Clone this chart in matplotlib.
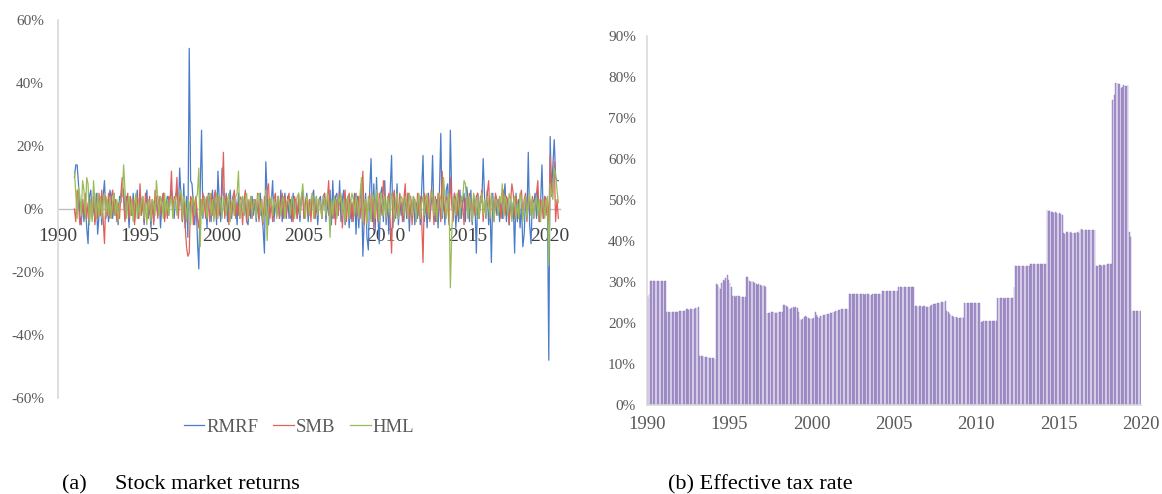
import numpy as np
import matplotlib
matplotlib.use('Agg')
import matplotlib.pyplot as plt
from matplotlib.ticker import PercentFormatter

plt.rcParams['font.family'] = ['Liberation Serif', 'DejaVu Serif']
plt.rcParams['axes.unicode_minus'] = False

# Monthly factor returns (%), Jan 1991 - Jul 2020, one row per year
rmrf = [
    10, 14, 14, 8, -2, -5, 3, -4, 2, -6, -11, 4,
    6, -3, 2, -4, 5, -8, -2, 3, -5, 4, 9, -3,
    2, -4, 6, 3, -3, 5, -2, 1, -5, 4, 2, 7,
    6, -3, 4, 2, -6, 3, -2, 5, -4, 2, 6, -3,
    3, -2, 4, -5, 2, 6, -3, 1, -6, 3, -4, 2,
    4, -2, 3, -6, 2, 5, -3, 1, 4, -2, 3, 6,
    2, -3, 4, 6, -2, 13, 3, -4, 8, -6, 4, -9,
    51, 9, 8, 2, -5, 3, -10, -19, 6, 25, -3, 4,
    2, -6, 5, 3, -4, 6, -3, 4, -5, 12, 2, -4,
    13, 3, -2, 5, -4, 2, 6, -3, 4, -2, 3, -5,
    5, -3, 2, 4, -2, 3, -4, -5, 2, -3, 4, -2,
    3, -4, 2, -3, 5, -2, -6, -14, 15, 4, -5, 3,
    2, 9, -4, 3, -2, 4, -3, 6, -4, 2, 5, -3,
    4, -3, 3, -4, 5, -2, 3, -3, 2, -4, 4, 6,
    -3, 2, 5, -4, 3, -2, 4, 6, -3, 2, -5, 3,
    4, -3, 2, 5, -4, 3, -2, 6, -5, 9, -3, 4,
    5, -2, 9, -4, 3, 6, -5, 2, 4, -6, 3, -4,
    2, 5, -8, 4, -6, 3, 8, -15, -3, 5, -9, -13,
    6, 16, -4, 8, -7, 10, -2, -11, 5, 7, -4, 9,
    -5, 3, -8, 6, 17, -6, 4, -3, 8, -5, 3, -2,
    2, -4, 6, -3, 5, -7, 3, -2, 4, -5, 2, -3,
    3, -5, 6, 17, -4, 3, -6, 5, -3, 2, 17, -2,
    -4, 3, -6, 5, 24, -3, 4, -5, 6, 8, -4, 25,
    4, -3, 5, -6, 3, -4, 6, -3, 2, 5, -4, 7,
    3, -4, 6, -5, 4, 2, -14, 5, -3, 4, 2, 16,
    4, -3, 6, -5, 2, -17, 5, -3, 4, -2, 3, -4,
    2, -3, 4, 8, -4, 3, -5, 4, -3, 2, -14, 5,
    -4, 3, -6, 2, -12, -8, 4, -3, 18, -5, -11, 3,
    2, 5, -3, 6, -4, 2, 14, -3, 4, 3, 2, -48,
    23, 5, 14, 22, 10, 9, 9,
]
smb = [
    0, -4, 6, 2, -5, -4, 3, -2, 5, -3, 2, -4,
    3, -2, 4, -5, 2, -3, 5, -2, 6, -3, -11, 4,
    -2, 5, -3, 4, 6, -2, 3, -4, 2, -3, 5, 10,
    3, -4, 2, 5, -3, 4, -2, 3, -5, 2, 4, -3,
    8, -2, 3, -4, 5, 2, -3, 4, -2, 3, -5, 6,
    2, -3, 4, -2, 3, 5, -4, 2, -3, 4, 3, 12,
    -2, 4, 3, 10, -3, 5, 2, -4, 3, -5, -12, -15,
    -14, 4, 3, -5, 2, 4, -3, -6, 3, -2, 5, 2,
    -3, 4, 2, -4, 5, -2, 3, 6, -3, 4, -2, 3,
    5, 18, -3, 4, 2, -5, 3, -2, 4, 6, -3, 2,
    -2, 4, 3, -5, 2, 6, -4, 3, -2, 4, -3, 2,
    3, -2, 5, -4, 2, 3, -5, 4, -2, 6, 8, -3,
    2, -4, 3, 5, -2, 4, -3, 2, 5, -3, 4, -2,
    3, 5, -3, 2, -4, 4, 2, -3, 5, -2, 3, 4,
    -3, 2, 4, -2, 3, -4, 5, 2, -3, 4, -2, 3,
    2, -3, 4, 5, -2, 3, 9, -4, 2, -3, 4, -5,
    3, -2, 5, 4, -6, 2, 6, -4, 3, 5, -3, 2,
    -4, 3, 5, -2, 4, -3, 2, 12, -5, 3, -4, 2,
    5, -3, 4, -6, 3, 2, -4, 5, 3, -2, 9, 4,
    -3, 2, 5, -4, -14, 3, 6, -2, 4, -3, 5, 2,
    -4, 3, 8, -2, 5, -3, 4, -5, 2, 3, -4, 5,
    -2, 4, -3, -17, 5, 3, -2, 4, -4, 6, 3, -5,
    4, -3, 5, 2, -4, 12, 3, -2, 4, 3, -5, 10,
    2, -4, 5, 3, -2, 6, -3, 4, 2, -5, 3, 4,
    -3, 5, 2, -4, 3, -2, 4, 5, -3, 2, 6, -4,
    3, -2, 5, 9, -3, 4, 2, -4, 5, 3, -2, 4,
    -3, 2, 6, -2, 4, 3, -5, 2, 8, 5, -3, 4,
    2, -3, 4, 6, -2, 3, 5, -4, 2, 3, -2, 4,
    -3, 2, 5, 9, -4, 3, 2, -3, 4, -2, 3, -5,
    17, 4, 6, 15, -4, 3, -3,
]
hml = [
    12, 5, -3, 7, 4, -2, 9, 6, -3, 10, 8, -5,
    3, -4, 9, 2, -3, 5, -2, 4, -3, 2, 5, -2,
    3, -2, 4, -3, 2, 5, -2, 3, -4, 2, 3, 4,
    14, 6, -3, 2, 4, -2, 3, -4, 2, 5, -3, 2,
    -2, 3, 4, -3, 2, -5, 3, 2, -4, 3, 2, -2,
    9, 3, -2, 4, 2, -3, 5, -2, 3, -2, 2, 4,
    -3, 2, 4, -2, 3, 5, 6, -3, 4, 2, -4, 3,
    2, -5, 3, 4, -2, 3, 5, 13, -12, 3, -2, 4,
    2, -3, 4, 5, -2, 3, -4, 2, 5, -3, 4, 2,
    -3, 4, 2, -2, 3, 5, -4, 2, 3, -2, 4, 5,
    12, -3, 2, 4, -2, 3, 5, -3, 2, 4, -2, 3,
    2, -3, 4, 5, -2, 3, -4, -2, 6, -10, 3, 2,
    4, -2, 3, 2, -3, 4, 2, -2, 3, 4, -3, 2,
    3, 2, -2, 4, 3, -3, 2, 4, 5, -2, 3, 8,
    2, -3, 4, 2, -2, 3, 5, -3, 2, 4, -2, 3,
    2, -3, 4, 3, -2, 5, 2, -9, 3, -2, 4, 2,
    -3, 4, 2, 5, -2, 3, -4, 2, 4, -3, 2, 5,
    3, -2, 4, 2, -3, 5, 10, -4, 2, 3, -5, 4,
    2, -4, 5, 3, -3, 6, 2, -4, 5, 3, -2, 4,
    -3, 4, 2, -2, 5, 3, -4, 2, 5, -3, 2, 4,
    3, -2, 4, 2, -3, 5, 2, -2, 4, 3, -4, 2,
    5, -3, 2, 4, -2, 3, 5, -3, 2, 4, 6, -2,
    3, -4, 2, 5, 3, -2, 10, 4, -3, 2, 5, -25,
    -8, 4, 3, -2, 5, 2, -3, 4, 3, 9, 8, 2,
    -3, 4, 2, -4, 5, 3, -2, 4, -3, 2, 5, -2,
    3, -2, 4, 2, -3, 5, 2, -4, 3, 2, -2, 4,
    2, 8, -3, 4, 2, -2, 5, 3, -4, 2, 4, -3,
    2, -3, 5, 3, -4, 2, 4, -3, 2, 5, -2, 3,
    -3, 2, 4, -2, 3, -4, 2, 3, -3, 2, 4, -18,
    8, 5, 3, 13, 11, 6, 2,
]
series_names = ['RMRF', 'SMB', 'HML']
series_colors = ['#4a7cc9', '#e0605c', '#9bbb59']

# Monthly effective tax rate (%), Jan 1990 - Dec 2019
tax_rate = [
    26.3, 27.0, 30.2, 30.2, 30.2, 30.2, 30.2, 30.2, 30.2, 30.2, 30.2, 30.2,
    30.2, 30.2, 22.7, 22.7, 22.6, 22.6, 22.6, 22.8, 22.8, 22.8, 22.8, 22.9,
    22.9, 22.9, 23.0, 23.0, 23.3, 23.3, 23.2, 23.3, 23.4, 23.5, 23.5, 23.7,
    23.7, 23.8, 11.9, 12.0, 11.9, 11.8, 11.8, 11.7, 11.6, 11.5, 11.4, 11.4,
    11.4, 11.3, 29.5, 29.3, 28.8, 28.4, 29.8, 30.4, 30.2, 31.0, 31.8, 30.6,
    29.8, 28.7, 26.5, 26.6, 26.4, 26.6, 26.5, 26.5, 26.4, 26.3, 26.3, 26.4,
    31.3, 31.2, 30.3, 30.1, 30.2, 30.0, 29.8, 29.4, 29.3, 29.4, 29.3, 29.0,
    29.2, 29.0, 28.9, 22.5, 22.4, 22.5, 22.6, 22.7, 22.6, 22.5, 22.5, 22.6,
    22.6, 22.7, 22.8, 24.5, 24.3, 24.2, 24.0, 23.4, 23.3, 23.6, 23.8, 23.7,
    23.8, 23.6, 22.6, 21.0, 20.8, 21.0, 21.5, 21.6, 21.4, 21.2, 21.0, 21.2,
    21.0, 21.2, 22.7, 22.0, 21.5, 21.2, 21.6, 21.8, 21.9, 22.0, 22.2, 22.3,
    22.3, 22.4, 22.5, 22.6, 22.8, 23.0, 23.0, 23.1, 23.2, 23.3, 23.3, 23.4,
    23.5, 23.5, 23.5, 27.0, 27.0, 27.0, 27.0, 27.0, 27.0, 27.0, 27.0, 27.0,
    27.0, 27.0, 26.9, 27.0, 27.0, 27.0, 26.9, 26.9, 27.0, 27.0, 27.1, 27.0,
    27.0, 27.0, 27.1, 27.8, 27.8, 27.7, 27.8, 27.8, 27.8, 27.8, 27.7, 27.8,
    27.8, 27.8, 27.7, 28.8, 28.8, 28.8, 28.7, 28.8, 28.8, 28.7, 28.8, 28.8,
    28.8, 28.7, 28.7, 24.1, 24.1, 24.0, 24.1, 24.1, 24.0, 24.1, 24.1, 24.0,
    24.0, 24.0, 24.2, 24.5, 24.6, 24.6, 24.7, 24.8, 24.8, 25.0, 25.1, 25.2,
    25.2, 25.3, 23.0, 22.6, 22.3, 22.0, 21.7, 21.5, 21.5, 21.4, 21.3, 21.3,
    21.3, 21.4, 21.3, 24.8, 24.8, 24.8, 24.8, 24.8, 24.8, 24.8, 24.8, 24.8,
    24.8, 24.8, 24.8, 20.2, 20.3, 20.4, 20.5, 20.5, 20.6, 20.5, 20.5, 20.4,
    20.4, 20.5, 20.5, 26.2, 26.2, 26.1, 26.2, 26.0, 25.9, 26.1, 26.2, 26.2,
    26.1, 26.0, 26.1, 28.8, 33.8, 33.8, 33.8, 33.8, 33.8, 33.8, 33.8, 33.8,
    33.8, 33.8, 33.8, 34.3, 34.3, 34.3, 34.3, 34.3, 34.3, 34.3, 34.3, 34.3,
    34.3, 34.3, 34.3, 47.5, 47.3, 47.2, 47.0, 47.0, 46.9, 47.0, 46.8, 46.5,
    46.8, 46.5, 46.3, 42.0, 41.8, 42.1, 42.2, 42.0, 42.1, 42.0, 41.9, 42.0,
    42.0, 42.1, 42.0, 42.8, 42.9, 42.7, 42.8, 42.8, 42.8, 42.7, 42.6, 42.8,
    42.8, 42.8, 42.7, 33.8, 34.0, 34.1, 34.2, 34.0, 34.1, 34.2, 34.2, 34.3,
    34.3, 34.3, 34.3, 74.5, 75.5, 78.6, 78.5, 78.3, 78.2, 77.3, 77.6, 78.0,
    77.8, 77.9, 78.0, 42.2, 41.0, 22.9, 22.9, 22.9, 22.9, 22.9, 22.9, 22.9,
]

year_ticks = [1990, 1995, 2000, 2005, 2010, 2015, 2020]
label_gray = '#595959'
axis_gray = '#d9d9d9'

fig = plt.figure(figsize=(11.62, 4.94), dpi=100)

# ---- (a) stock market returns ----
ax1 = fig.add_axes([58 / 1162, 96 / 494, 502 / 1162, 378 / 494])
t_ret = 1991 + np.arange(len(rmrf)) / 12
for vals, name, col in zip([rmrf, smb, hml], series_names, series_colors):
    ax1.plot(t_ret, np.array(vals) / 100, color=col, lw=0.9, label=name)
ax1.set_xlim(1990, 2020.6)
ax1.set_ylim(-0.6, 0.6)
ax1.set_yticks(np.arange(-0.6, 0.61, 0.2))
ax1.yaxis.set_major_formatter(PercentFormatter(1.0, decimals=0))
ax1.set_xticks(year_ticks)
for s in ['top', 'right']:
    ax1.spines[s].set_visible(False)
ax1.spines['left'].set_color(axis_gray)
ax1.spines['left'].set_linewidth(1.2)
ax1.spines['bottom'].set_position(('data', 0))
ax1.spines['bottom'].set_color('#bfbfbf')
ax1.spines['bottom'].set_linewidth(1.0)
ax1.spines['bottom'].set_zorder(0)
ax1.tick_params(axis='y', length=0, labelsize=11, labelcolor=label_gray, pad=10)
ax1.tick_params(axis='x', length=0, labelsize=14, labelcolor='#404040', pad=14)
ax1.legend(loc='upper center', bbox_to_anchor=(0.48, -0.01), ncol=3, frameon=False,
           fontsize=13.5, labelcolor=label_gray, handlelength=1.1, handletextpad=0.1,
           columnspacing=0.8)

# ---- (b) effective tax rate ----
ax2 = fig.add_axes([647 / 1162, 89 / 494, 494 / 1162, 369 / 494])
t_tax = 1990 + (np.arange(len(tax_rate)) + 0.5) / 12
ax2.bar(t_tax, np.array(tax_rate) / 100, width=0.6 / 12, color='#ad9dd0',
        edgecolor='#9079bb', linewidth=0.3)
ax2.set_xlim(1990, 2020)
ax2.set_ylim(0, 0.9)
ax2.set_yticks(np.arange(0, 0.91, 0.1))
ax2.yaxis.set_major_formatter(PercentFormatter(1.0, decimals=0))
ax2.set_xticks(year_ticks)
for s in ['top', 'right']:
    ax2.spines[s].set_visible(False)
for s in ['left', 'bottom']:
    ax2.spines[s].set_color(axis_gray)
    ax2.spines[s].set_linewidth(1.2)
ax2.tick_params(axis='y', length=0, labelsize=11, labelcolor=label_gray, pad=8)
ax2.tick_params(axis='x', length=0, labelsize=13.5, labelcolor=label_gray, pad=8)

# captions
fig.text(62 / 1162, 5 / 494, '(a)', fontsize=16, ha='left', va='baseline')
fig.text(115 / 1162, 5 / 494, 'Stock market returns', fontsize=16, ha='left', va='baseline')
fig.text(668 / 1162, 5 / 494, '(b) Effective tax rate', fontsize=16, ha='left', va='baseline')

fig.savefig('out.png', dpi=100, facecolor='white')
